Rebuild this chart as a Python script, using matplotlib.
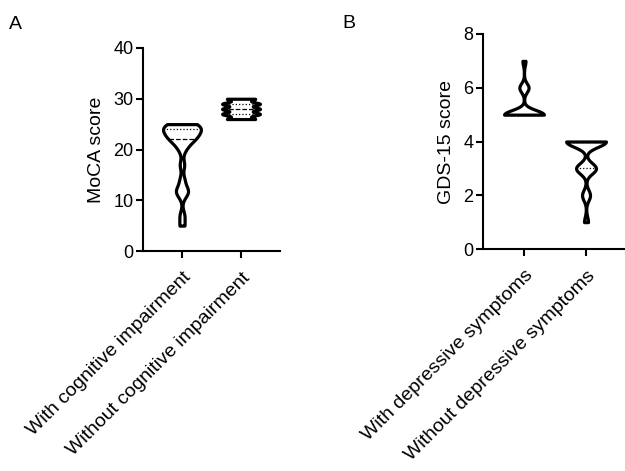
import numpy as np
import matplotlib
matplotlib.use("Agg")
import matplotlib.pyplot as plt

plt.rcParams['font.family'] = ['Liberation Sans', 'DejaVu Sans']

# --- data (scores) ---
moca_labels = ["With cognitive impairment", "Without cognitive impairment"]
moca_with = [5, 7, 11, 12, 12, 14, 17, 20, 21, 22, 22, 22, 23, 23, 23, 24, 24, 24, 24, 25, 25, 25, 25]
moca_without = [26, 26, 26, 27, 27, 27, 27, 28, 28, 28, 28, 29, 29, 29, 29, 30, 30, 30]

gds_labels = ["With depressive symptoms", "Without depressive symptoms"]
gds_with = [5] * 13 + [6] * 3 + [7]
gds_without = [1, 2, 2, 3, 3, 3, 3, 3] + [4] * 10


def kde(vals, grid, bw):
    vals = np.asarray(vals, float)
    d = (grid[:, None] - vals[None, :]) / bw
    return np.exp(-0.5 * d ** 2).sum(axis=1)


def violin(ax, vals, pos, bw, half=0.32):
    vals = np.asarray(vals, float)
    y = np.linspace(vals.min(), vals.max(), 400)
    dens = kde(vals, y, bw)
    w = dens / dens.max() * half
    ax.fill_betweenx(y, pos - w, pos + w, facecolor='white', edgecolor='black',
                     linewidth=2.3, zorder=3)
    # quartiles: dotted, median: dashed
    q1, med, q3 = np.percentile(vals, [25, 50, 75])
    for q, ls in ((q1, ':'), (med, '--'), (q3, ':')):
        wq = np.interp(q, y, w)
        ax.plot([pos - wq, pos + wq], [q, q], color='black', lw=0.9, ls=ls, zorder=4)


def style(ax, ylabel, ymax, step, labels):
    for s in ('top', 'right'):
        ax.spines[s].set_visible(False)
    for s in ('left', 'bottom'):
        ax.spines[s].set_linewidth(1.5)
    ax.set_ylim(0, ymax)
    ax.set_yticks(np.arange(0, ymax + 1, step))
    ax.set_xlim(0.34, 2.66)
    ax.set_xticks([1, 2])
    ax.set_xticklabels(labels, rotation=45, ha='right', rotation_mode='anchor')
    ax.tick_params(axis='both', length=5, width=1.5, labelsize=13, pad=2)
    ax.tick_params(axis='x', labelsize=14, pad=8)
    ax.set_ylabel(ylabel, fontsize=14, labelpad=6)


fig = plt.figure(figsize=(6.25, 4.71), dpi=100)

axA = fig.add_axes([143 / 625, 1 - 251 / 471, 137 / 625, 203 / 471])
violin(axA, moca_with, 1, bw=1.0)
violin(axA, moca_without, 2, bw=0.33)
style(axA, "MoCA score", 40, 10, moca_labels)

axB = fig.add_axes([483 / 625, 1 - 249 / 471, 144 / 625, 215 / 471])
violin(axB, gds_with, 1, bw=0.17)
violin(axB, gds_without, 2, bw=0.2)
style(axB, "GDS-15 score", 8, 2, gds_labels)

fig.text(9 / 625, 1 - 29 / 471, "A", fontsize=14)
fig.text(342 / 625, 1 - 28 / 471, "B", fontsize=14)

fig.savefig("out.png", dpi=100)
